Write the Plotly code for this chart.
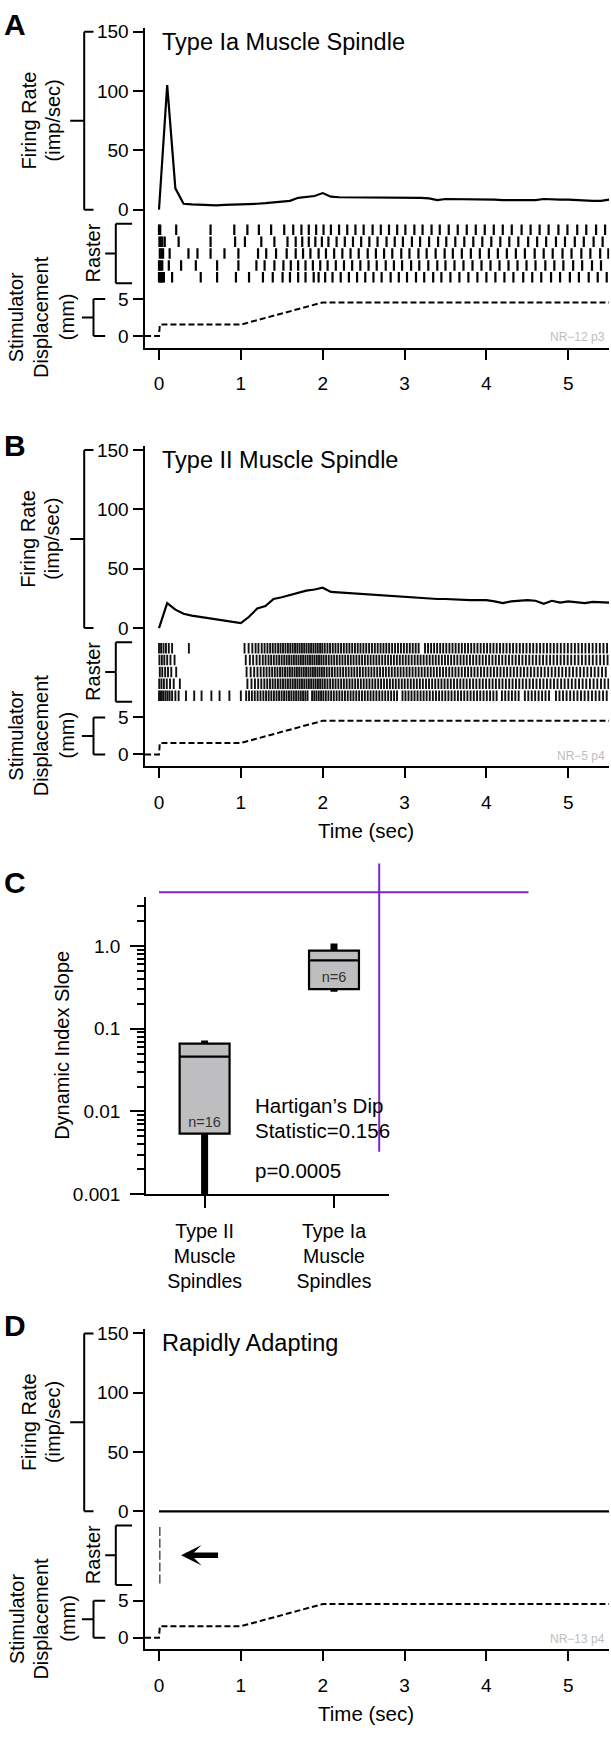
import plotly.graph_objects as go

W, H = 611, 1739
FONT = "Liberation Sans, Arial, sans-serif"
PURPLE = "#7E27BE"

# ---------------- data ----------------
time_bins = [0.0, 0.1, 0.2, 0.3, 0.4, 0.5, 0.6, 0.7, 0.8, 0.9, 1.0, 1.1, 1.2, 1.3, 1.4, 1.5, 1.6, 1.7, 1.8, 1.9,
             2.0, 2.1, 2.2, 2.3, 2.4, 2.5, 2.6, 2.7, 2.8, 2.9, 3.0, 3.1, 3.2, 3.3, 3.4, 3.5, 3.6, 3.7, 3.8, 3.9,
             4.0, 4.1, 4.2, 4.3, 4.4, 4.5, 4.6, 4.7, 4.8, 4.9, 5.0, 5.1, 5.2, 5.3, 5.4, 5.5]
time_ticks = [0, 1, 2, 3, 4, 5]

rate_ia = [0, 105, 18, 5, 4.5, 4, 3.8, 3.6, 4, 4.2, 4.2, 4.5, 5, 5.5, 6, 7, 7.5, 10, 10.5, 11.5,
           14, 11, 10.5, 10.5, 10.5, 10.5, 10.5, 10, 10, 10.5, 10.5, 10.5, 10, 9.5, 8, 9, 9, 8.5, 8.5, 9,
           8.5, 8.5, 8, 8, 8.5, 8, 8, 9, 8.5, 8.5, 8.5, 8, 7.5, 7.5, 7.5, 8.5]

rate_ii = [0, 21, 15.5, 12, 10.5, 9.5, 8, 7, 6, 5, 4.2, 9.5, 16.5, 18.5, 24.5, 26, 28, 30, 31.5, 32.5,
           34, 30.5, 30, 29.5, 29, 28.5, 28, 27.5, 27, 26.5, 26, 25.5, 25, 24.5, 24.5, 24.5, 24, 23.5, 23.5, 23.5,
           23.5, 22.5, 21, 22.5, 23, 23.5, 23, 20.5, 23, 21.5, 22.5, 22, 21, 22, 21.5, 21.5]

rate_ra_t = [0.0, 5.5]
rate_ra = [0, 0]

disp_t = [-0.17, 0.0, 0.01, 1.0, 2.0, 5.5]
disp_mm = [0, 0, 1.55, 1.55, 4.55, 4.55]

# raster spike times (sec), one list per trial, top trial first
raster_ia = [
    [0.0, 0.015, 0.21, 0.63, 0.92, 1.08, 1.22, 1.37, 1.53, 1.64, 1.74, 1.83, 1.92, 2.01, 2.10, 2.20, 2.30, 2.40,
     2.50, 2.61, 2.71, 2.81, 2.91, 3.01, 3.12, 3.22, 3.33, 3.43, 3.54, 3.65, 3.76, 3.87, 3.98, 4.09, 4.20, 4.31,
     4.43, 4.54, 4.65, 4.76, 4.88, 4.99, 5.11, 5.22, 5.34, 5.45],
    [0.005, 0.02, 0.04, 0.07, 0.24, 0.63, 0.93, 1.05, 1.25, 1.41, 1.57, 1.67, 1.75, 1.83, 1.91, 1.99, 2.07, 2.17,
     2.27, 2.37, 2.47, 2.57, 2.67, 2.78, 2.88, 2.98, 3.09, 3.19, 3.30, 3.41, 3.51, 3.62, 3.73, 3.84, 3.95, 4.06,
     4.17, 4.28, 4.39, 4.51, 4.62, 4.73, 4.85, 4.96, 5.08, 5.19, 5.31, 5.42],
    [0.01, 0.03, 0.05, 0.13, 0.36, 0.47, 0.63, 0.80, 0.97, 1.21, 1.31, 1.43, 1.56, 1.67, 1.76, 1.85, 1.95, 2.04,
     2.14, 2.24, 2.34, 2.44, 2.55, 2.65, 2.75, 2.85, 2.96, 3.06, 3.17, 3.27, 3.38, 3.49, 3.59, 3.70, 3.81, 3.92,
     4.03, 4.14, 4.25, 4.36, 4.47, 4.59, 4.70, 4.81, 4.93, 5.04, 5.16, 5.27, 5.39, 5.49],
    [0.0, 0.02, 0.04, 0.12, 0.27, 0.45, 0.71, 0.97, 1.19, 1.29, 1.41, 1.52, 1.61, 1.70, 1.79, 1.88, 1.97, 2.06,
     2.16, 2.26, 2.36, 2.46, 2.56, 2.66, 2.77, 2.87, 2.97, 3.08, 3.18, 3.29, 3.40, 3.50, 3.61, 3.72, 3.83, 3.94,
     4.05, 4.16, 4.27, 4.38, 4.49, 4.60, 4.72, 4.83, 4.94, 5.06, 5.17, 5.29, 5.40],
    [0.0, 0.01, 0.02, 0.03, 0.045, 0.06, 0.16, 0.51, 0.71, 0.94, 1.10, 1.27, 1.39, 1.51, 1.60, 1.70, 1.79, 1.89,
     1.95, 2.03, 2.12, 2.22, 2.32, 2.42, 2.52, 2.62, 2.72, 2.83, 2.93, 3.03, 3.14, 3.24, 3.35, 3.45, 3.56, 3.67,
     3.78, 3.89, 4.00, 4.11, 4.22, 4.33, 4.45, 4.56, 4.67, 4.79, 4.90, 5.02, 5.13, 5.25, 5.36, 5.47],
]

# Type II raster spike times in ms, top trial first
raster_ii_ms = [
    [0, 25, 55, 85, 120, 160, 365, 1045, 1095, 1140, 1180, 1215, 1255, 1290, 1325, 1358, 1390, 1422, 1455, 1485,
     1515, 1545, 1575, 1604, 1633, 1662, 1690, 1718, 1746, 1774, 1802, 1830, 1858, 1886, 1913, 1940, 1968, 1995,
     2025, 2058, 2090, 2123, 2156, 2190, 2224, 2258, 2292, 2326, 2360, 2394, 2428, 2462, 2497, 2532, 2567, 2602,
     2637, 2672, 2707, 2742, 2777, 2812, 2848, 2884, 2920, 2956, 2992, 3028, 3064, 3100, 3136, 3172, 3250, 3287,
     3324, 3361, 3398, 3435, 3472, 3510, 3548, 3586, 3624, 3662, 3700, 3738, 3776, 3814, 3852, 3891, 3930, 3969,
     4008, 4047, 4086, 4126, 4166, 4206, 4246, 4286, 4326, 4367, 4408, 4449, 4490, 4531, 4572, 4614, 4656, 4698,
     4740, 4782, 4824, 4866, 4909, 4952, 4995, 5038, 5081, 5124, 5167, 5210, 5254, 5298, 5342, 5386, 5430, 5474],
    [5, 35, 65, 100, 140, 190, 1060, 1110, 1150, 1192, 1230, 1268, 1302, 1338, 1370, 1403, 1436, 1468, 1499, 1530,
     1560, 1590, 1619, 1648, 1677, 1705, 1733, 1761, 1789, 1817, 1845, 1873, 1900, 1928, 1955, 1983, 2011, 2042,
     2074, 2107, 2140, 2173, 2207, 2241, 2275, 2309, 2343, 2377, 2412, 2447, 2481, 2516, 2551, 2586, 2621, 2656,
     2691, 2727, 2763, 2799, 2834, 2870, 2906, 2942, 2978, 3014, 3050, 3087, 3124, 3160, 3196, 3233, 3270, 3307,
     3344, 3381, 3418, 3456, 3494, 3531, 3569, 3607, 3645, 3684, 3722, 3760, 3799, 3838, 3877, 3916, 3955, 3994,
     4034, 4074, 4114, 4154, 4194, 4235, 4276, 4317, 4358, 4399, 4440, 4482, 4524, 4566, 4608, 4650, 4692, 4735,
     4778, 4821, 4864, 4907, 4950, 4993, 5036, 5080, 5124, 5168, 5212, 5256, 5300, 5345, 5390, 5435, 5480],
    [10, 40, 75, 110, 150, 210, 1070, 1120, 1163, 1203, 1242, 1279, 1314, 1349, 1382, 1415, 1447, 1479, 1509, 1540,
     1570, 1599, 1628, 1657, 1685, 1713, 1741, 1769, 1797, 1825, 1852, 1880, 1907, 1935, 1962, 1990, 2018, 2049,
     2081, 2114, 2147, 2181, 2215, 2249, 2283, 2317, 2352, 2386, 2421, 2455, 2490, 2525, 2560, 2595, 2630, 2666,
     2701, 2737, 2772, 2808, 2844, 2880, 2916, 2952, 2988, 3025, 3061, 3098, 3135, 3172, 3209, 3246, 3283, 3320,
     3357, 3395, 3432, 3470, 3508, 3546, 3584, 3622, 3660, 3699, 3738, 3776, 3815, 3854, 3893, 3933, 3972, 4012,
     4052, 4092, 4132, 4172, 4213, 4253, 4294, 4335, 4376, 4418, 4459, 4501, 4543, 4585, 4627, 4669, 4712, 4755,
     4798, 4841, 4884, 4927, 4971, 5014, 5058, 5102, 5146, 5190, 5234, 5279, 5323, 5368, 5413, 5458],
    [3, 30, 60, 95, 135, 180, 255, 1080, 1130, 1172, 1212, 1250, 1287, 1322, 1356, 1389, 1421, 1453, 1484, 1515,
     1545, 1575, 1605, 1634, 1663, 1691, 1719, 1747, 1775, 1803, 1831, 1859, 1887, 1914, 1942, 1969, 1997, 2026,
     2058, 2091, 2124, 2157, 2191, 2225, 2259, 2293, 2328, 2362, 2397, 2431, 2466, 2501, 2536, 2571, 2607, 2642,
     2678, 2713, 2749, 2785, 2821, 2857, 2893, 2929, 2966, 3002, 3039, 3076, 3113, 3150, 3187, 3224, 3262, 3299,
     3337, 3375, 3413, 3451, 3489, 3527, 3565, 3604, 3643, 3681, 3720, 3759, 3798, 3838, 3877, 3917, 3956, 3996,
     4036, 4076, 4116, 4157, 4197, 4238, 4279, 4320, 4361, 4402, 4444, 4486, 4528, 4570, 4612, 4655, 4697, 4740,
     4783, 4826, 4869, 4913, 4956, 5000, 5044, 5088, 5132, 5176, 5220, 5265, 5310, 5355, 5400, 5445, 5490],
    [0, 15, 35, 55, 80, 105, 130, 160, 200, 240, 330, 430, 520, 640, 740, 860, 1000, 1065, 1100, 1135, 1170, 1205,
     1240, 1275, 1308, 1340, 1372, 1404, 1436, 1467, 1498, 1528, 1558, 1588, 1617, 1646, 1675, 1704, 1732, 1760,
     1788, 1815, 1870, 1897, 1924, 1952, 1980, 2008, 2038, 2070, 2103, 2136, 2170, 2204, 2238, 2272, 2306, 2341,
     2375, 2410, 2445, 2480, 2515, 2550, 2585, 2620, 2656, 2692, 2728, 2764, 2800, 2836, 2872, 2908, 2975, 3011,
     3048, 3085, 3122, 3159, 3196, 3233, 3270, 3308, 3346, 3384, 3422, 3460, 3498, 3536, 3574, 3613, 3652, 3690,
     3729, 3768, 3807, 3846, 3886, 3925, 3965, 4005, 4045, 4085, 4125, 4190, 4230, 4271, 4312, 4353, 4394, 4470,
     4512, 4554, 4596, 4638, 4680, 4722, 4765, 4850, 4893, 4936, 4980, 5024, 5068, 5112, 5156, 5200, 5245, 5290,
     5335, 5380, 5425, 5470],
]
raster_ra = [[0.01], [0.01], [0.01], [0.01], [0.01]]

box_groups = ["Type II<br>Muscle<br>Spindles", "Type Ia<br>Muscle<br>Spindles"]
box_q1 = [0.0054, 0.30]
box_median = [0.046, 0.67]
box_q3 = [0.066, 0.88]
box_low = [0.0008, 0.28]
box_high = [0.072, 1.07]
box_n = ["n=16", "n=6"]
box_n_y = [0.0072, 0.40]

# ---------------- helpers ----------------
def px(x):
    return x / W


def py(y):
    return 1 - y / H


def yd(top, bot):
    return [1 - bot / H, 1 - top / H]


def raster_xy(rows, lo=0.06, hi=0.94):
    xs, ys = [], []
    n = len(rows)
    for i, row in enumerate(rows):
        base = n - 1 - i
        for t in row:
            xs += [t, t, None]
            ys += [base + lo, base + hi, None]
    return xs, ys


def lk(axid):
    return axid[0] + "axis" + axid[1:]


TICKFONT = dict(family=FONT, size=19, color="black")
BASE_AX = dict(showgrid=False, zeroline=False, showline=True, linecolor="black", linewidth=2,
               ticks="outside", tickcolor="black", tickwidth=2, tickfont=TICKFONT, fixedrange=True)

fig = go.Figure()
layout = dict(width=W, height=H, margin=dict(l=0, r=0, t=0, b=0), paper_bgcolor="white",
              plot_bgcolor="rgba(0,0,0,0)", showlegend=False, font=dict(family=FONT, color="black"))
shapes = []
annotations = []


def ann(text, x, y, size=20, xanchor="center", yanchor="middle", angle=0, color="black", bold=False, **kw):
    annotations.append(dict(text=("<b>%s</b>" % text) if bold else text, x=px(x), y=py(y), xref="paper",
                            yref="paper", showarrow=False, xanchor=xanchor, yanchor=yanchor, textangle=angle,
                            font=dict(family=FONT, size=size, color=color), **kw))


def bracket(yref, v0, v1, xv, xh, xs):
    vm = (v0 + v1) / 2
    for (a, b, c, d) in [(xv, v0, xv, v1), (xv, v0, xh, v0), (xv, v1, xh, v1), (xs, vm, xv, vm)]:
        shapes.append(dict(type="line", xref="paper", yref=yref, x0=px(a), y0=b, x1=px(c), y1=d,
                           line=dict(color="black", width=2)))


X0, XPS = 159.0, 81.85   # pixel of t=0, pixels per second
XL, XR = 145.0, 609.2    # axis left / right pixels

panels = [
    ("A", 0.0, "x", ["y", "y2", "y3"], time_bins, rate_ia, raster_ia, 2.2, "black",
     "Type Ia Muscle Spindle", "NR\u221212 p3", False),
    ("B", 422.5, "x2", ["y4", "y5", "y6"], time_bins, rate_ii, [[t / 1000 for t in r] for r in raster_ii_ms],
     1.9, "#111", "Type II Muscle Spindle", "NR\u22125 p4", True),
    ("D", 1314.5, "x4", ["y8", "y9", "y10"], rate_ra_t, rate_ra, raster_ra, 1.4, "#444",
     "Rapidly Adapting", "NR\u221213 p4", True),
]

for (letter, o, xa, (yr, yras, ydis), rt, rv, rrows, rw, rcol, title, tag, timelabel) in panels:
    fig.add_trace(go.Scatter(x=rt, y=rv, mode="lines", line=dict(color="black", width=2.2),
                             xaxis=xa, yaxis=yr, hoverinfo="skip"))
    rx, ry = raster_xy(rrows, 0.06, 0.94) if letter != "D" else raster_xy(rrows, 0.12, 0.88)
    fig.add_trace(go.Scatter(x=rx, y=ry, mode="lines", line=dict(color=rcol, width=rw),
                             xaxis=xa, yaxis=yras, hoverinfo="skip", connectgaps=False))
    fig.add_trace(go.Scatter(x=disp_t, y=disp_mm, mode="lines",
                             line=dict(color="black", width=2, dash="6px,3px"),
                             xaxis=xa, yaxis=ydis, hoverinfo="skip"))

    layout[lk(xa)] = dict(BASE_AX, domain=[px(XL), px(XR)], range=[(XL - X0) / XPS, (XR - X0) / XPS],
                          anchor=ydis, tickvals=time_ticks, ticklen=10, ticklabelstandoff=8)
    layout[lk(yr)] = dict(BASE_AX, domain=yd(22 + o, 212 + o), range=[-6.3 / 1.198, 150 + 4 / 1.198],
                          anchor=xa, tickvals=[0, 50, 100, 150], ticklen=10.5)
    layout[lk(yras)] = dict(BASE_AX, domain=yd(212 + o, 288 + o), range=[-8 / 12, 5 + 8 / 12], anchor=xa,
                            ticks="", showticklabels=False)
    layout[lk(ydis)] = dict(BASE_AX, domain=yd(288 + o, 345 + o), range=[-11.7 / 7.46, 5 + 8 / 7.46],
                            anchor=xa, tickvals=[0, 5], ticklen=10.5)

    bracket(yr, 0, 150, 84.2, 93.5, 70.2)
    bracket(yras, 0, 5, 115.8, 132.1, 105.2)
    bracket(ydis, 0, 5, 93.5, 105.2, 81.9)

    ann("Firing Rate", 28.6, 116 + o, angle=-90)
    ann("(imp/sec)", 52.6, 116 + o, angle=-90)
    ann("Raster", 93, 250 + o, angle=-90)
    ann("Stimulator", 16.4, 314 + o, angle=-90)
    ann("Displacement", 41, 314 + o, angle=-90)
    ann("(mm)", 67.2, 314 + o, angle=-90)
    ann(title, 160.2, 36 + o, size=23.5, xanchor="left")
    ann(tag, 607, 334.5 + o, size=12, xanchor="right", color="#bdbdbd")
    if timelabel:
        ann("Time (sec)", 366, 410 + o, size=20.5)

ann("A", 14.6, 19, size=30, bold=True)
ann("B", 14.6, 444, size=30, bold=True)
ann("C", 14.6, 885, size=30, bold=True)
ann("D", 14.6, 1333, size=30, bold=True)

# ---------------- panel C ----------------
CX0, CX1, CAT0, CSP = 146.2, 389.4, 204.6, 129.4
for i in range(2):
    fig.add_trace(go.Scatter(x=[i, i], y=[box_low[i], box_q1[i]], mode="lines",
                             line=dict(color="black", width=7), xaxis="x3", yaxis="y7", hoverinfo="skip"))
    fig.add_trace(go.Scatter(x=[i, i], y=[box_q3[i], box_high[i]], mode="lines",
                             line=dict(color="black", width=7), xaxis="x3", yaxis="y7", hoverinfo="skip"))
    fig.add_trace(go.Box(x=[i], q1=[box_q1[i]], median=[box_median[i]], q3=[box_q3[i]],
                         lowerfence=[box_q1[i]], upperfence=[box_q3[i]], width=0.386,
                         fillcolor="#BEBEC0", line=dict(color="black", width=2.2), whiskerwidth=0,
                         boxpoints=False, xaxis="x3", yaxis="y7", hoverinfo="skip"))
fig.add_trace(go.Scatter(x=[0, 1], y=box_n_y, mode="text", text=box_n,
                         textfont=dict(family=FONT, size=14.5, color="#333"), xaxis="x3", yaxis="y7",
                         hoverinfo="skip"))

minor_vals = [m * 10 ** e for e in (-3, -2, -1) for m in range(2, 10)] + [2, 3, 4]
layout["xaxis3"] = dict(BASE_AX, domain=[px(CX0), px(CX1)],
                        range=[(CX0 - CAT0) / CSP, (CX1 - CAT0) / CSP],
                        anchor="y7", tickvals=[0, 1], ticktext=box_groups, ticklen=12,
                        tickfont=dict(family=FONT, size=19.5, color="black"), ticklabelstandoff=6)
layout["yaxis7"] = dict(BASE_AX, type="log", domain=yd(899.3, 1200), range=[-3, 0.597], anchor="x3",
                        tickvals=[0.001, 0.01, 0.1, 1], ticktext=["0.001", "0.01", "0.1", "1.0"], ticklen=14,
                        ticklabelstandoff=6,
                        minor=dict(tickvals=minor_vals, ticklen=7, tickwidth=1.5, ticks="outside",
                                   tickcolor="black", showgrid=False))

ann("Dynamic Index Slope", 62.6, 1049.5, size=20, angle=-90)
ann("Hartigan\u2019s Dip", 252.6, 1110.5, size=20.5, xanchor="left")
ann("Statistic=0.156", 252.6, 1135.5, size=20.5, xanchor="left")
ann("p=0.0005", 252.6, 1175.7, size=20.5, xanchor="left")

shapes.append(dict(type="line", xref="paper", yref="paper", x0=px(159), x1=px(528.5), y0=py(895), y1=py(895),
                   line=dict(color=PURPLE, width=2)))
shapes.append(dict(type="line", xref="paper", yref="paper", x0=px(379.2), x1=px(379.2), y0=py(866),
                   y1=py(1157), line=dict(color=PURPLE, width=2)))

# arrow in D raster
annotations.append(dict(text="", x=0.27, y=2.5, xref="x4", yref="y9", ax=0.74, ay=2.5, axref="x4",
                        ayref="y9", showarrow=True, arrowhead=3, arrowwidth=5.5, arrowsize=0.62,
                        arrowcolor="black"))

layout["shapes"] = shapes
layout["annotations"] = annotations
fig.update_layout(**layout)

fig.write_html("out.html", config={"displayModeBar": False},
               post_script="document.body.style.margin='0';document.body.style.overflow='hidden';")
